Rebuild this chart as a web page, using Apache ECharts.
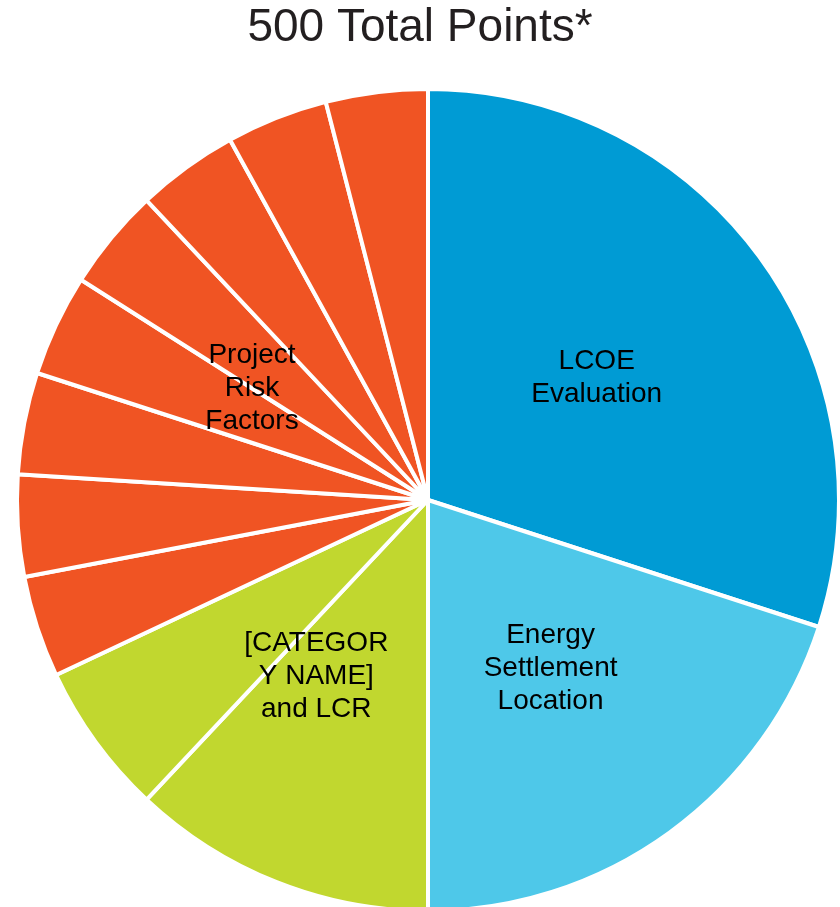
<!DOCTYPE html>
<html>
<head>
<meta charset="utf-8">
<script src="https://cdn.jsdelivr.net/npm/echarts@6/dist/echarts.min.js"></script>
<style>
html,body{margin:0;padding:0;background:#fff;}
#main{width:840px;height:907px;}
</style>
</head>
<body>
<div id="main"></div>
<script>
// slices, clockwise from 12 o'clock
const sliceNames = ['LCOE', 'Energy Settlement', 'Category A', 'Category B',
  'Risk 1', 'Risk 2', 'Risk 3', 'Risk 4', 'Risk 5', 'Risk 6', 'Risk 7', 'Risk 8'];
const sliceValues = [150, 100, 60, 30, 20, 20, 20, 20, 20, 20, 20, 20];
const sliceColors = ['#009bd4', '#4ec8e9', '#c1d72f', '#c1d72f',
  '#f05423', '#f05423', '#f05423', '#f05423', '#f05423', '#f05423', '#f05423', '#f05423'];

// grouped categories, used for the labels
const groupNames = ['LCOE\nEvaluation', 'Energy\nSettlement\nLocation', '[CATEGOR\nY NAME]\nand LCR', 'Project\nRisk\nFactors'];
const groupValues = [150, 100, 90, 160];

let myChart = echarts.init(document.getElementById('main'));
myChart.setOption({
    animation: false,
    title: {
        text: '500 Total Points*',
        left: 'center',
        top: 0,
        textStyle: { fontSize: 46, fontWeight: 'normal', color: '#231f20', fontFamily: 'Liberation Sans' }
    },
    series: [
        {
            type: 'pie',
            center: [428, 500],
            radius: [0, 411],
            startAngle: 90,
            clockwise: true,
            silent: true,
            label: { show: false },
            labelLine: { show: false },
            itemStyle: { borderColor: '#fff', borderWidth: 4 },
            data: sliceNames.map((n, i) => ({ name: n, value: sliceValues[i], itemStyle: { color: sliceColors[i] } }))
        },
        {
            type: 'pie',
            center: [428, 500],
            radius: [0, 411],
            startAngle: 90,
            clockwise: true,
            silent: true,
            itemStyle: { color: 'rgba(0,0,0,0)', borderWidth: 0 },
            label: {
                show: true,
                position: 'inside',
                formatter: '{b}',
                color: '#000',
                fontSize: 28,
                lineHeight: 33,
                fontFamily: 'Liberation Sans',
                textBorderWidth: 0
            },
            labelLine: { show: false },
            data: groupNames.map((n, i) => ({ name: n, value: groupValues[i] }))
        }
    ]
});
</script>
</body>
</html>
